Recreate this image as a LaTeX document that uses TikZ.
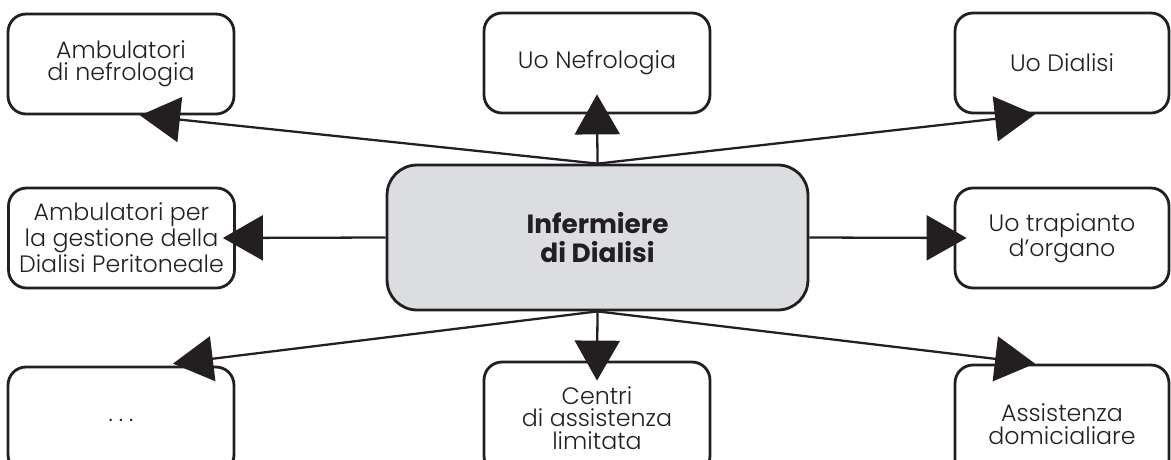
\documentclass[tikz,border=0pt]{standalone}
\usepackage{fontspec}
\setmainfont{Poppins}[UprightFont=* Light, BoldFont=* Bold]
\usetikzlibrary{arrows.meta}
\definecolor{inkblack}{RGB}{35,31,32}
\definecolor{boxgray}{RGB}{220,221,224}
\tikzset{
    place/.style={draw=inkblack, line width=1.6pt, rounded corners=0.36cm,
        minimum width=4.52cm, minimum height=2cm, inner sep=0pt, align=center,
        text=inkblack, font=\fontsize{13.5}{12.8}\selectfont},
    hub/.style={place, fill=boxgray, rounded corners=0.6cm,
        minimum width=8.42cm, minimum height=2.9cm,
        font=\fontsize{15}{16.5}\selectfont\bfseries},
    link/.style={draw=inkblack, line width=1.3pt,
        -{Triangle[length=0.8cm,width=0.9cm]}}
}
\begin{document}
\begin{tikzpicture}[x=0.02cm,y=-0.02cm]
        \useasboundingbox (0,0) rectangle (1171,460);
        \clip (0,0) rectangle (1171,460);

        % centre
        \node[hub] (hub) at (597.5,237.5) {Infermiere\\di Dialisi};

        % top row
        \node[place] (amb) at (121,64) {Ambulatori\\di nefrologia};
        \node[place] (nef) at (597,63) {Uo Nefrologia};
        \node[place, minimum width=4.28cm] (dia) at (1062,63) {Uo Dialisi};

        % middle row
        \node[place] (per) at (121.5,238) {Ambulatori per\\la gestione della\\Dialisi Peritoneale};
        \node[place, minimum width=4.28cm] (tra) at (1062,238) {Uo trapianto\\d\char"0027 organo};

        % bottom row
        \node[place, minimum height=2.12cm] (dots) at (121,420) {.\hspace{0.12cm}.\hspace{0.12cm}.};
        \node[place, minimum height=2.24cm] (cdl) at (597,418) {Centri\\di assistenza\\limitata};
        \node[place, minimum width=4.28cm, minimum height=2.36cm] (dom) at (1062,424) {Assistenza\\domicialiare};

        \draw[link] (hub.north) -- ([xshift=0.38cm]amb.south);
        \draw[link] (hub.north) -- ([yshift=0.4cm]nef.south);
        \draw[link] (hub.north) -- ([xshift=-0.54cm]dia.south);
        \draw[link] (hub.west) -- ([xshift=-0.26cm]per.east);
        \draw[link] (hub.east) -- ([xshift=0.26cm]tra.west);
        \draw[link] (hub.south) -- ([xshift=1.04cm,yshift=0.04cm]dots.north);
        \draw[link] (hub.south) -- ([yshift=-0.4cm]cdl.north);
        \draw[link] (hub.south) -- ([xshift=-0.54cm]dom.north);
\end{tikzpicture}
\end{document}
